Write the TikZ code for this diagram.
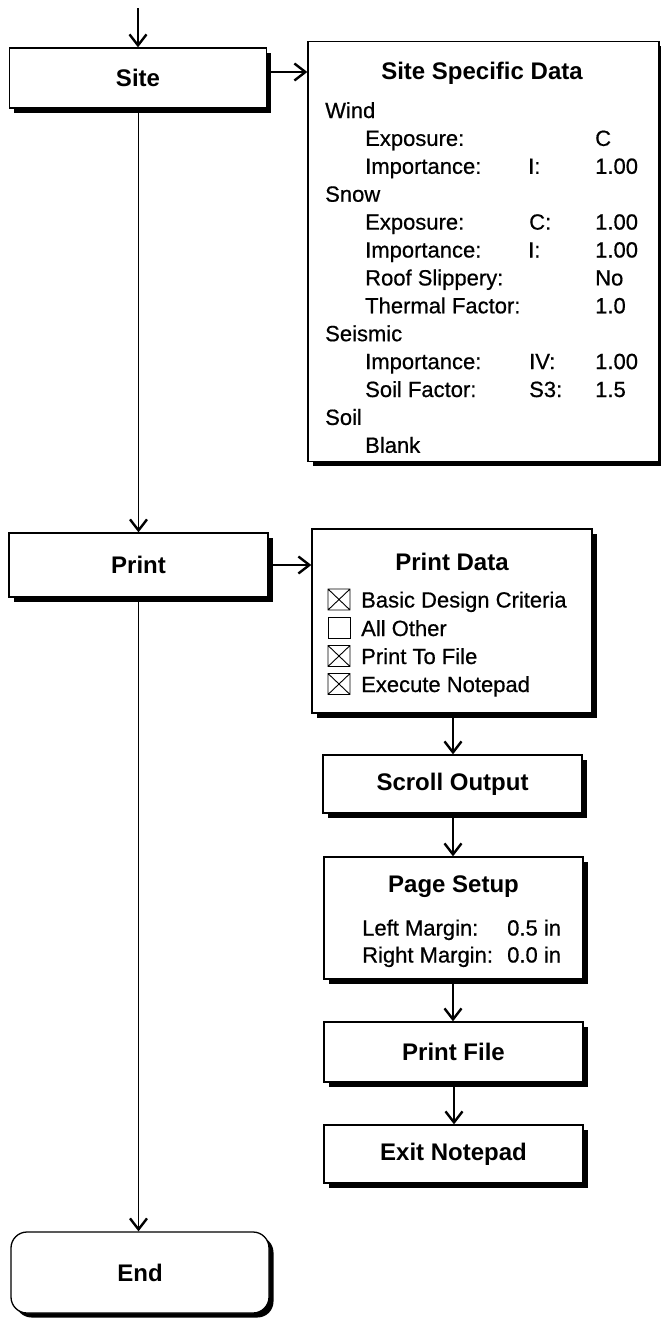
\documentclass[tikz,border=0pt]{standalone}
\usepackage{fontspec}
\setmainfont{Liberation Sans}
\newfontfamily\bodyfont[FakeBold=0.6]{Liberation Sans}
\usetikzlibrary{arrows.meta,shadows}
\begin{document}
\begin{tikzpicture}[x=1pt,y=-1pt,
  box/.style={draw=black, line width=1.3pt, fill=white, rectangle,
    drop shadow={shadow xshift=4.5pt,shadow yshift=-4.5pt,fill=black,opacity=1}},
  endbox/.style={box, rounded corners=16pt},
  lbl/.style={font=\fontsize{24}{28}\selectfont\bfseries},
  ttl/.style={font=\fontsize{24}{28}\selectfont\bfseries, inner sep=0pt},
  txt/.style={font=\bodyfont\fontsize{22}{26}\selectfont, anchor=base west, inner sep=0pt},
  arr/.style={line width=1.2pt, -{Straight Barb[length=11pt,width=17pt,line width=2.4pt]}},
  cbox/.style={line width=0.9pt}
]
\useasboundingbox (0,0) rectangle (661,1320);

% main column
\coordinate (start) at (138,8);
\node[box, minimum width=257pt, minimum height=60pt] (site) at (138,78) {};
\node[lbl] (sitel) at (site.center) {Site};
\node[box, minimum width=259pt, minimum height=64pt] (print) at (138.5,565) {};
\node[lbl] (printl) at (print.center) {Print};
\node[endbox, minimum width=258pt, minimum height=81pt] (endn) at (140,1272.5) {};
\node[lbl] (endl) at (endn.center) {End};

% site specific data
\node[box, minimum width=351pt, minimum height=420pt] (ssd) at (483.5,251.5) {};
\node[ttl] (ssdt) at (482,73) {Site Specific Data};
\node[txt] (w0) at (325,118) {Wind};
\node[txt] (w1) at (365,145.9) {Exposure:};
\node[txt] (w1v) at (595,145.9) {C};
\node[txt] (w2) at (365,173.8) {Importance:};
\node[txt] (w2m) at (528,173.8) {I:};
\node[txt] (w2v) at (595,173.8) {1.00};
\node[txt] (s0) at (325,201.7) {Snow};
\node[txt] (s1) at (365,229.6) {Exposure:};
\node[txt] (s1m) at (529,229.6) {C:};
\node[txt] (s1v) at (595,229.6) {1.00};
\node[txt] (s2) at (365,257.5) {Importance:};
\node[txt] (s2m) at (528,257.5) {I:};
\node[txt] (s2v) at (595,257.5) {1.00};
\node[txt] (s3) at (365,285.4) {Roof Slippery:};
\node[txt] (s3v) at (595,285.4) {No};
\node[txt] (s4) at (365,313.3) {Thermal Factor:};
\node[txt] (s4v) at (595,313.3) {1.0};
\node[txt] (e0) at (325,341.2) {Seismic};
\node[txt] (e1) at (365,369.1) {Importance:};
\node[txt] (e1m) at (529,369.1) {IV:};
\node[txt] (e1v) at (595,369.1) {1.00};
\node[txt] (e2) at (365,397) {Soil Factor:};
\node[txt] (e2m) at (529,397) {S3:};
\node[txt] (e2v) at (595,397) {1.5};
\node[txt] (o0) at (325,424.9) {Soil};
\node[txt] (o1) at (365,452.8) {Blank};

% print data
\node[box, minimum width=280pt, minimum height=184pt] (pd) at (452,621) {};
\node[ttl] (pdt) at (452,562) {Print Data};
\node[txt] (p1) at (361,607.5) {Basic Design Criteria};
\node[txt] (p2) at (361,636) {All Other};
\node[txt] (p3) at (361,664) {Print To File};
\node[txt] (p4) at (361,692) {Execute Notepad};
\draw[cbox] (328,589) rectangle (350,610) (328,589) -- (350,610) (350,589) -- (328,610);
\draw[cbox] (328,617) rectangle (350,638.5);
\draw[cbox] (328,645.5) rectangle (350,666.5) (328,645.5) -- (350,666.5) (350,645.5) -- (328,666.5);
\draw[cbox] (328,673.5) rectangle (350,694.5) (328,673.5) -- (350,694.5) (350,673.5) -- (328,694.5);

% right column
\node[box, minimum width=259pt, minimum height=58pt] (scroll) at (452.5,784) {};
\node[lbl] (scrolll) at (scroll.center) {Scroll Output};
\node[box, minimum width=259pt, minimum height=122pt] (page) at (453.5,918) {};
\node[ttl] (paget) at (453.5,887) {Page Setup};
\node[txt] (pg1) at (362,935.5) {Left Margin:};
\node[txt] (pg1v) at (507,935.5) {0.5 in};
\node[txt] (pg2) at (362,962.5) {Right Margin:};
\node[txt] (pg2v) at (507,962.5) {0.0 in};
\node[box, minimum width=259pt, minimum height=60pt] (pfile) at (453.5,1052) {};
\node[lbl] (pfilel) at (pfile.center) {Print File};
\node[box, minimum width=259pt, minimum height=58pt] (exitn) at (453.5,1154) {};
\node[lbl] (exitl) at (exitn.center) {Exit Notepad};

% connectors
\draw[arr] (start) -- (site.north -| start);
\draw[arr] ([yshift=6pt]site.east) -- ([yshift=6pt]site.east -| ssd.west);
\draw[arr] (site.south -| print.north) -- (print.north);
\draw[arr] (print.east) -- (print.east -| pd.west);
\draw[arr] (print.south) -- (print.south |- endn.north);
\draw[arr] (pd.south -| 453,0) -- (scroll.north -| 453,0);
\draw[arr] (scroll.south -| 453,0) -- (page.north -| 453,0);
\draw[arr] (page.south -| 453,0) -- (pfile.north -| 453,0);
\draw[arr] (pfile.south -| 454,0) -- (exitn.north -| 454,0);
\end{tikzpicture}
\end{document}
